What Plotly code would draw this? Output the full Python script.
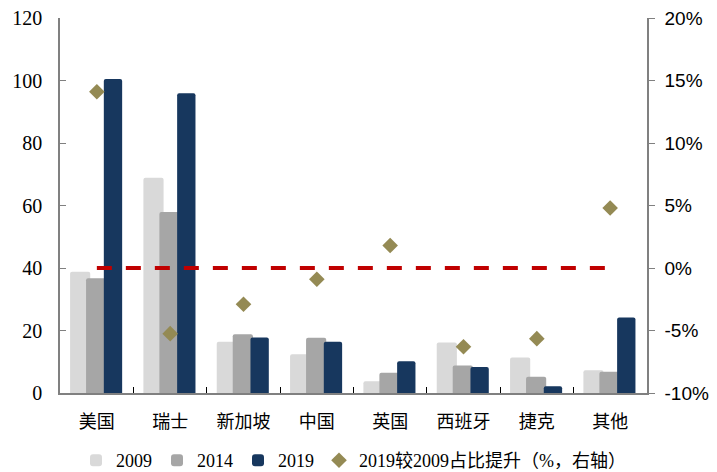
import plotly.graph_objects as go

categories = ["美国", "瑞士", "新加坡", "中国", "英国", "西班牙", "捷克", "其他"]
v2009 = [38.8, 68.9, 16.4, 12.4, 3.8, 16.2, 11.4, 7.3]
v2014 = [36.7, 57.9, 18.8, 17.7, 6.5, 8.8, 5.2, 6.8]
v2019 = [100.5, 95.9, 17.8, 16.4, 10.2, 8.3, 2.2, 24.2]
share_change = [14.1, -5.25, -2.9, -0.9, 1.8, -6.3, -5.65, 4.8]  # percent, right axis
zero_ref = [0] * len(categories)

pct_ticks = [-10, -5, 0, 5, 10, 15, 20]
pct_labels = ["-10%", "-5%", "0%", "5%", "10%", "15%", "20%"]

serif = "Liberation Serif, Times New Roman, Noto Sans CJK SC"
cjk = "Noto Sans CJK SC"
sans = "Liberation Sans, Arial"

fig = go.Figure()

bar_specs = [
    ("2009", v2009, "#D9D9D9", -0.365, 0.275),
    ("2014", v2014, "#A6A6A6", -0.147, 0.275),
    ("2019", v2019, "#17375E", 0.095, 0.25),
]
for name, vals, color, off, w in bar_specs:
    fig.add_trace(go.Bar(
        x=categories, y=vals, name=name,
        marker=dict(color=color, line=dict(width=0), cornerradius=2),
        offset=off, width=w,
    ))

fig.add_trace(go.Scatter(
    x=categories, y=zero_ref, yaxis="y2", mode="lines",
    line=dict(color="#C00000", width=4, dash="15px,14px"),
    showlegend=False, hoverinfo="skip",
))

fig.add_trace(go.Scatter(
    x=categories, y=share_change, yaxis="y2", mode="markers",
    name="2019较2009占比提升（%，右轴）",
    marker=dict(symbol="diamond", size=12, color="#948A54"),
))

fig.update_layout(
    width=717, height=472,
    margin=dict(l=60, r=70, t=18, b=79, autoexpand=False),
    plot_bgcolor="white", paper_bgcolor="white",
    barmode="overlay",
    showlegend=True,
    legend=dict(
        orientation="h", x=0.5, xanchor="center", y=-0.18, yanchor="middle",
        font=dict(family=serif, size=18, color="#000"),
        itemwidth=30, tracegroupgap=0,
    ),
    xaxis=dict(
        type="category", automargin=False,
        showline=True, linecolor="#808080", linewidth=1.5,
        ticks="inside", tickson="boundaries", ticklen=6, tickcolor="#000", tickwidth=1,
        tickfont=dict(family=cjk, size=18, color="#000"),
        ticklabelstandoff=12,
        showgrid=False, zeroline=False,
    ),
    yaxis=dict(
        range=[0, 120], dtick=20, automargin=False,
        showline=True, linecolor="#808080", linewidth=1.5,
        ticks="inside", ticklen=6, tickcolor="#808080",
        tickfont=dict(family=serif, size=20, color="#000"),
        ticklabelstandoff=12,
        showgrid=False, zeroline=False,
    ),
    yaxis2=dict(
        overlaying="y", side="right", automargin=False,
        range=[-10, 20], tickmode="array", tickvals=pct_ticks, ticktext=pct_labels,
        showline=True, linecolor="#808080", linewidth=1.5,
        ticks="outside", ticklen=6, tickcolor="#808080",
        tickfont=dict(family=sans, size=19, color="#000"),
        ticklabelstandoff=6,
        showgrid=False, zeroline=False,
    ),
)

fig.write_html("out.html")
